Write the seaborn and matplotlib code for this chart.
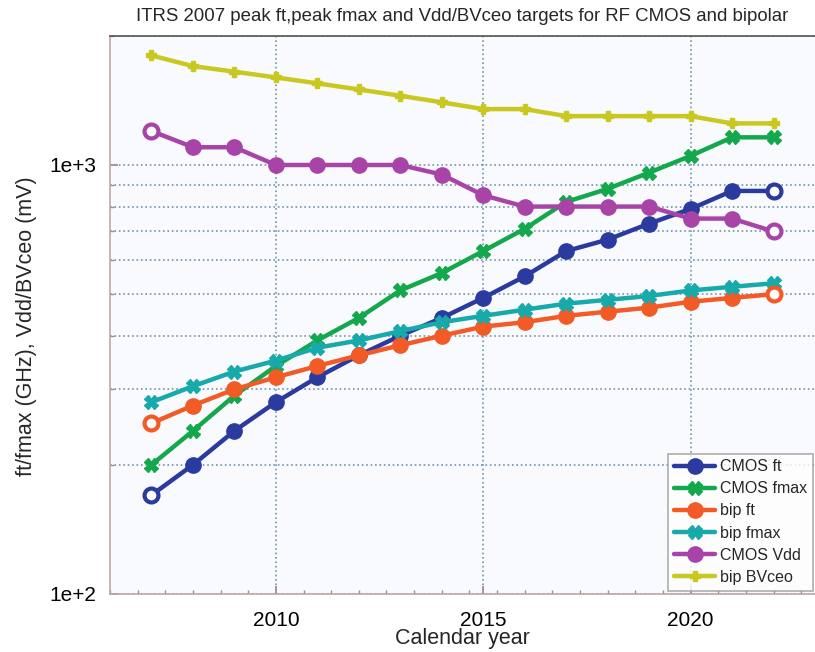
import numpy as np
import pandas as pd
import seaborn as sns
import matplotlib
matplotlib.use("Agg")
import matplotlib.pyplot as plt
from matplotlib.lines import Line2D
from matplotlib.ticker import FixedLocator, LogLocator, NullFormatter

# ITRS 2007 RF targets, one value per calendar year
years = list(range(2007, 2023))
cmos_ft = [170, 200, 240, 280, 320, 360, 400, 440, 490, 550, 630, 670, 730, 790, 870, 870]
cmos_fmax = [200, 240, 290, 340, 390, 440, 510, 560, 630, 710, 820, 880, 960, 1050, 1160, 1160]
bip_ft = [250, 275, 300, 320, 340, 360, 380, 400, 420, 430, 445, 455, 465, 480, 490, 500]
bip_fmax = [280, 305, 330, 350, 375, 390, 410, 430, 445, 460, 475, 485, 495, 510, 520, 530]
cmos_vdd = [1200, 1100, 1100, 1000, 1000, 1000, 1000, 950, 850, 800, 800, 800, 800, 750, 750, 700]
bip_bvceo = [1800, 1700, 1650, 1600, 1550, 1500, 1450, 1400, 1350, 1350, 1300, 1300, 1300, 1300, 1250, 1250]

series_names = ["CMOS ft", "CMOS fmax", "bip ft", "bip fmax", "CMOS Vdd", "bip BVceo"]
series_values = [cmos_ft, cmos_fmax, bip_ft, bip_fmax, cmos_vdd, bip_bvceo]
colors = ["#2b3a9f", "#14a84c", "#f25a26", "#18a9aa", "#a844a8", "#c9c820"]
markers = ["o", "X", "o", "X", "o", "P"]
msizes = [11, 10, 11, 9.5, 11, 7]
hollow_ends = [True, False, True, False, True, False]

sns.set_theme(style="ticks")
plt.rcParams["font.family"] = ["Liberation Sans", "DejaVu Sans"]

fig = plt.figure(figsize=(8.15, 6.52), dpi=100)
ax = fig.add_axes([0.135, 0.089, 0.865, 0.856])
ax.set_facecolor("#f9fafd")

df = pd.DataFrame({"year": years})
for name, vals in zip(series_names, series_values):
    df[name] = vals

handles = []
for name, col, mk, ms, hollow in zip(series_names, colors, markers, msizes, hollow_ends):
    every = slice(1, -1) if hollow else None
    sns.lineplot(data=df, x="year", y=name, ax=ax, color=col, linewidth=3.2,
                 marker=mk, markersize=ms, markeredgewidth=1.0, markeredgecolor=col,
                 markevery=every, zorder=3)
    if hollow:
        ends = df.iloc[[0, -1]]
        ax.plot(ends["year"], ends[name], linestyle="none", marker=mk,
                markersize=ms - 1, markerfacecolor="white", markeredgecolor=col,
                markeredgewidth=3.0, zorder=4)
    handles.append(Line2D([], [], color=col, linewidth=3.2, marker=mk,
                          markersize=ms, markeredgecolor=col))

ax.set_yscale("log")
ax.set_xlim(2006, 2023)
ax.set_ylim(100, 2000)

ax.xaxis.set_major_locator(FixedLocator([2010, 2015, 2020]))
ax.xaxis.set_minor_locator(FixedLocator(np.arange(2006, 2023.01, 2 / 3)))
ax.yaxis.set_major_locator(FixedLocator([100, 1000]))
ax.yaxis.set_minor_locator(LogLocator(base=10, subs=np.arange(2, 10)))
ax.yaxis.set_minor_formatter(NullFormatter())
ax.set_yticklabels(["1e+2", "1e+3"])

ax.tick_params(axis="both", which="both", direction="in", colors="#a08c8c",
               labelcolor="black", labelsize=15)
ax.tick_params(axis="x", which="major", length=6, pad=12)
ax.tick_params(axis="y", which="major", length=6, pad=10)
ax.tick_params(axis="both", which="minor", length=3)

ax.grid(True, axis="x", which="major", color="#7393ad", linestyle=":", linewidth=1.2)
ax.grid(True, axis="y", which="both", color="#7393ad", linestyle=":", linewidth=1.2)

for side in ["left", "bottom"]:
    ax.spines[side].set_color("#c0a8a4")
    ax.spines[side].set_linewidth(1.2)
ax.spines["top"].set_color("#555555")
ax.spines["top"].set_linewidth(1.2)
ax.spines["right"].set_visible(False)

ax.set_xlabel("Calendar year", fontsize=15.5, labelpad=-1)
ax.set_ylabel("ft/fmax (GHz), Vdd/BVceo (mV)", fontsize=15.5)
ax.yaxis.set_label_coords(-0.104, 0.48)
ax.set_title("ITRS 2007 peak ft,peak fmax and Vdd/BVceo targets for RF CMOS and bipolar",
             fontsize=13.4, pad=11,
             family=["Liberation Sans Narrow", "Liberation Sans", "DejaVu Sans"])

leg = ax.legend(handles, series_names, loc="lower right", bbox_to_anchor=(0.997, 0.006),
                fontsize=11.5, handlelength=2.6, handletextpad=0.3, labelspacing=0.45,
                borderaxespad=0, frameon=True, fancybox=False, borderpad=0.35)
leg.get_frame().set_edgecolor("#9a9a9a")
leg.get_frame().set_linewidth(1.2)
leg.get_frame().set_facecolor("white")

fig.savefig("out.png", dpi=100)
